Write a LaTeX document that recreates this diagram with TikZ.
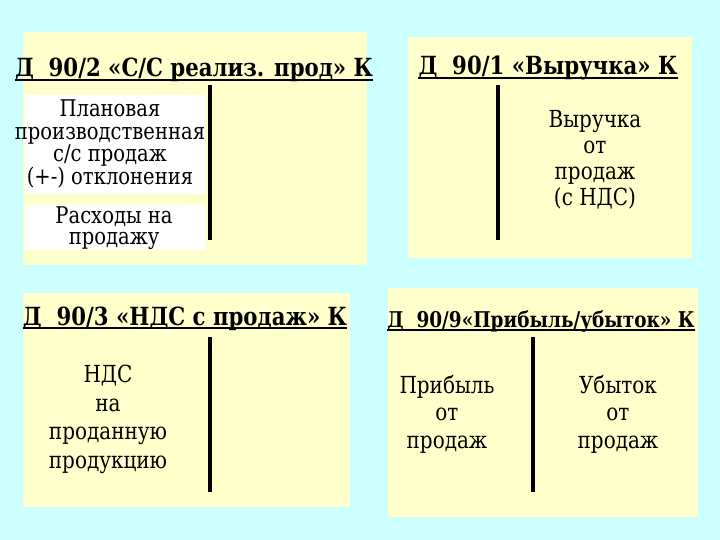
\documentclass[tikz,border=0pt]{standalone}
\usepackage{fontspec}
\setmainfont{DejaVu Serif}[FakeStretch=0.85]
\definecolor{bgcyan}{RGB}{204,255,255}
\definecolor{panelyellow}{RGB}{255,255,204}

\begin{document}
\begin{tikzpicture}[x=1pt, y=-1pt,
	title/.style={inner sep=0pt, anchor=base, font=\fontsize{#1}{#1}\selectfont\bfseries},
	uline/.style={line width=1.8pt},
	tline/.style={line width=3.5pt},
	entry/.style={inner sep=0pt, anchor=north, align=center, font=\fontsize{23.5}{#1}\selectfont}]
	\fill[bgcyan] (0,0) rectangle (720,540);
	\useasboundingbox (0,0) rectangle (720,540);

	% 90/2
	\fill[panelyellow] (23,32) rectangle (367,265);
	\fill[white] (25,95) rectangle (205,194);
	\fill[white] (25,205) rectangle (205,250);
	\node[title=25] (t1) at (194,77) {Д~~90/2 «С/С реализ. прод» К};
	\draw[uline] ([yshift=-3pt]t1.base west) to ([yshift=-3pt]t1.base east);
	\draw[tline] (210,85) to (210,240);
	\node[entry=22.5, font=\fontsize{23}{22.5}\selectfont] (e1) at (110,100) {Плановая\\производственная\\с/с продаж\\(+-) отклонения};
	\node[entry=21, font=\fontsize{23}{21}\selectfont] (e2) at (114,207) {Расходы на\\продажу};

	% 90/1
	\fill[panelyellow] (408,37) rectangle (692,258);
	\node[title=25] (t2) at (548,75) {Д~~90/1 «Выручка» К};
	\draw[uline] ([yshift=-3pt]t2.base west) to ([yshift=-3pt]t2.base east);
	\draw[tline] (498,85) to (498,240);
	\node[entry=26] (e3) at (595,110) {Выручка\\от\\продаж\\(с НДС)};

	% 90/3
	\fill[panelyellow] (23,293) rectangle (350,507);
	\node[title=25] (t3) at (185,325) {Д~~90/3 «НДС с продаж» К};
	\draw[uline] ([yshift=-3pt]t3.base west) to ([yshift=-3pt]t3.base east);
	\draw[tline] (210,337) to (210,492);
	\node[entry=28.5] (e4) at (108,365) {НДС\\на\\проданную\\продукцию};

	% 90/9
	\fill[panelyellow] (388,288) rectangle (698,517);
	\node[title=21.7] (t4) at (541,327) {Д~~90/9«Прибыль/убыток» К};
	\draw[uline] ([yshift=-3pt]t4.base west) to ([yshift=-3pt]t4.base east);
	\draw[tline] (533,337) to (533,492);
	\node[entry=27.5] (e5) at (447,375) {Прибыль\\от\\продаж};
	\node[entry=27.5] (e6) at (618,375) {Убыток\\от\\продаж};
\end{tikzpicture}
\end{document}
